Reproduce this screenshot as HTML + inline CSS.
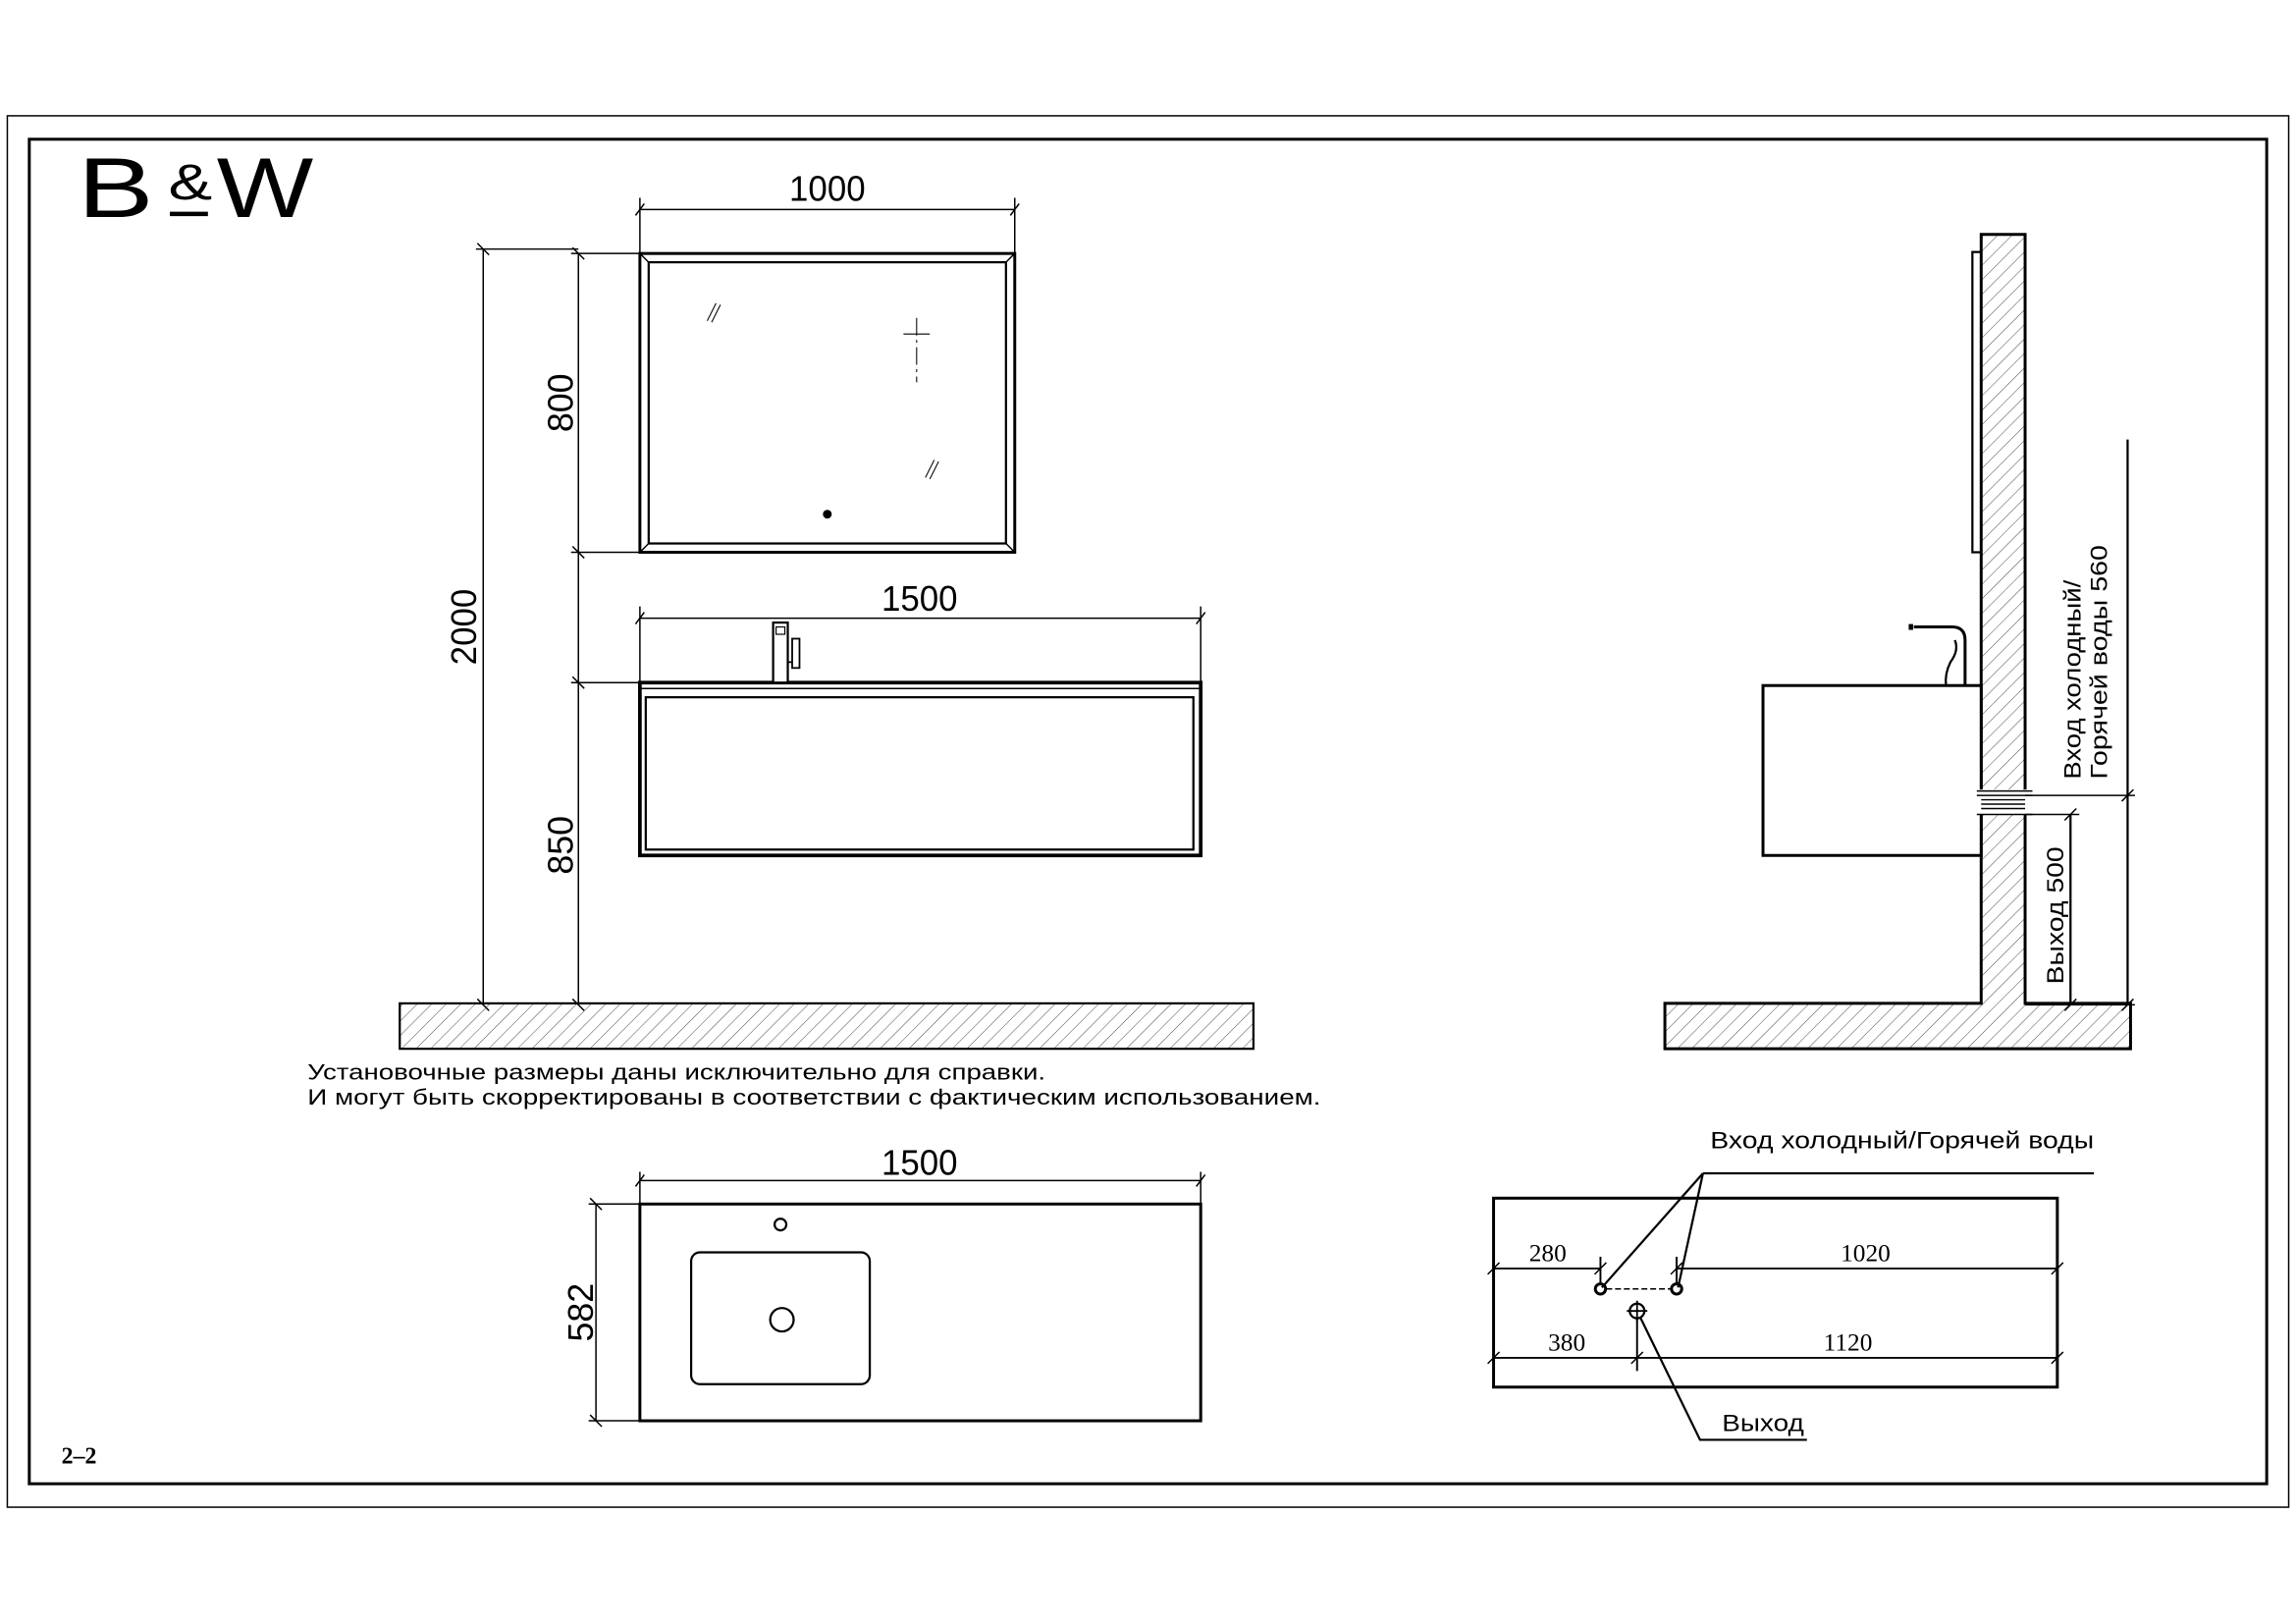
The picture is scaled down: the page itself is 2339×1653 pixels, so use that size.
<!DOCTYPE html>
<html><head><meta charset="utf-8"><style>html,body{margin:0;padding:0;background:#fff}svg{display:block}</style></head>
<body>
<svg width="2339" height="1653" viewBox="0 0 1568 1108" xmlns="http://www.w3.org/2000/svg" font-family="Liberation Sans, DejaVu Sans, sans-serif">
<defs>
<pattern id="h" width="7" height="7" patternUnits="userSpaceOnUse" patternTransform="rotate(45)">
<line x1="0" y1="0" x2="0" y2="7" stroke="#333" stroke-width="0.6"/>
</pattern>
</defs>
<rect width="1568" height="1108" fill="#fff"/>
<rect x="5" y="79" width="1558" height="950" fill="none" stroke="#000" stroke-width="1"/>
<rect x="20" y="95" width="1528" height="918" fill="none" stroke="#000" stroke-width="2"/>
<!-- Logo -->
<text x="53" y="148" font-size="58" fill="#000" textLength="52" lengthAdjust="spacingAndGlyphs">B</text>
<text x="115" y="136" font-size="34" fill="#000" textLength="30" lengthAdjust="spacingAndGlyphs">&amp;</text>
<line x1="116" y1="146" x2="142" y2="146" stroke="#000" stroke-width="3"/>
<text x="148" y="148" font-size="58" fill="#000" textLength="66" lengthAdjust="spacingAndGlyphs">W</text>

<g stroke="#000" fill="none">
<!-- Mirror -->
<rect x="437" y="173" width="256" height="204" stroke-width="2"/>
<rect x="443" y="179" width="244" height="192" stroke-width="1.5"/>
<line x1="437" y1="173" x2="443" y2="179" stroke-width="1"/>
<line x1="693" y1="173" x2="687" y2="179" stroke-width="1"/>
<line x1="437" y1="377" x2="443" y2="371" stroke-width="1"/>
<line x1="693" y1="377" x2="687" y2="371" stroke-width="1"/>
<line x1="483" y1="219" x2="489" y2="207" stroke-width="0.7"/>
<line x1="486" y1="220" x2="492" y2="208" stroke-width="0.7"/>
<line x1="632" y1="326" x2="638" y2="314" stroke-width="0.7"/>
<line x1="635" y1="327" x2="641" y2="315" stroke-width="0.7"/>
<line x1="617" y1="228" x2="635" y2="228" stroke-width="0.7"/>
<line x1="626" y1="217" x2="626" y2="261" stroke-width="0.7" stroke-dasharray="12,3,2,3"/>
</g>
<circle cx="565" cy="351" r="3" fill="#000"/>

<g stroke="#000" fill="none" stroke-width="1">
<line x1="437" y1="143" x2="693" y2="143"/>
<line x1="437" y1="135" x2="437" y2="173"/>
<line x1="693" y1="135" x2="693" y2="173"/>
<line x1="434" y1="147" x2="440" y2="139"/><line x1="690" y1="147" x2="696" y2="139"/>
<line x1="395" y1="173" x2="395" y2="686"/>
<line x1="390" y1="173" x2="437" y2="173"/>
<line x1="390" y1="377" x2="437" y2="377"/>
<line x1="390" y1="466" x2="437" y2="466"/>
<line x1="391" y1="169" x2="399" y2="177"/><line x1="391" y1="373" x2="399" y2="381"/>
<line x1="391" y1="462" x2="399" y2="470"/><line x1="391" y1="682" x2="399" y2="690"/>
<line x1="330" y1="170" x2="330" y2="686"/>
<line x1="325" y1="170" x2="395" y2="170"/>
<line x1="326" y1="166" x2="334" y2="174"/><line x1="326" y1="682" x2="334" y2="690"/>
<line x1="437" y1="422" x2="820" y2="422"/>
<line x1="437" y1="414" x2="437" y2="466"/>
<line x1="820" y1="414" x2="820" y2="466"/>
<line x1="434" y1="426" x2="440" y2="418"/><line x1="817" y1="426" x2="823" y2="418"/>
</g>
<g fill="#000" font-size="24" text-anchor="middle">
<text x="565" y="137" textLength="52" lengthAdjust="spacingAndGlyphs">1000</text>
<text x="628" y="417" textLength="52" lengthAdjust="spacingAndGlyphs">1500</text>
<text transform="translate(391,275) rotate(-90)" textLength="40" lengthAdjust="spacingAndGlyphs">800</text>
<text transform="translate(391,577) rotate(-90)" textLength="40" lengthAdjust="spacingAndGlyphs">850</text>
<text transform="translate(325,428) rotate(-90)" textLength="52" lengthAdjust="spacingAndGlyphs">2000</text>
</g>
<g stroke="#000" fill="none">
<rect x="437" y="466" width="383" height="118" stroke-width="2.5"/>
<line x1="437" y1="470" x2="820" y2="470" stroke-width="1"/>
<rect x="441" y="476" width="374" height="104" stroke-width="1.5"/>
<rect x="528" y="425" width="10" height="41" stroke-width="1.5" fill="#fff"/>
<rect x="530" y="428" width="6" height="5" stroke-width="0.8"/>
<rect x="541" y="436" width="5" height="20" stroke-width="1.2"/>
<line x1="538" y1="452" x2="541" y2="452" stroke-width="1.2"/>
</g>
<rect x="273" y="685" width="583" height="31" fill="url(#h)" stroke="#000" stroke-width="1.5"/>
<text x="210" y="737" font-size="15" fill="#000" textLength="504" lengthAdjust="spacingAndGlyphs">Установочные размеры даны исключительно для справки.</text>
<text x="210" y="754" font-size="15" fill="#000" textLength="692" lengthAdjust="spacingAndGlyphs">И могут быть скорректированы в соответствии с фактическим использованием.</text>

<g stroke="#000" fill="none">
<rect x="437" y="822" width="383" height="148" stroke-width="2"/>
<rect x="472" y="855" width="122" height="90" rx="6" stroke-width="1.5"/>
<circle cx="534" cy="901" r="8" stroke-width="1.5"/>
<circle cx="533" cy="836" r="4" stroke-width="1.5"/>
<g stroke-width="1">
<line x1="437" y1="806" x2="820" y2="806"/>
<line x1="437" y1="800" x2="437" y2="822"/><line x1="820" y1="800" x2="820" y2="822"/>
<line x1="434" y1="810" x2="440" y2="802"/><line x1="817" y1="810" x2="823" y2="802"/>
<line x1="407" y1="822" x2="407" y2="970"/>
<line x1="402" y1="822" x2="437" y2="822"/><line x1="402" y1="970" x2="437" y2="970"/>
<line x1="403" y1="818" x2="411" y2="826"/><line x1="403" y1="966" x2="411" y2="974"/>
</g>
</g>
<g fill="#000" font-size="24" text-anchor="middle">
<text x="628" y="802" textLength="52" lengthAdjust="spacingAndGlyphs">1500</text>
<text transform="translate(405,896) rotate(-90)" textLength="40" lengthAdjust="spacingAndGlyphs">582</text>
</g>
<text x="42" y="999" font-size="16" font-weight="bold" fill="#000" font-family="Liberation Serif, serif">2–2</text>

<path d="M1137 685 H1353 V160 H1383 V685 H1455 V716 H1137 Z" fill="url(#h)" stroke="#000" stroke-width="2"/>
<g stroke="#000" fill="none">
<rect x="1347" y="172" width="6" height="205" stroke-width="1.5"/>
<rect x="1204" y="468" width="149" height="116" stroke-width="2" fill="#fff"/>
<path d="M1307 428 H1333 Q1342 428 1342 437 V468" stroke-width="2"/>
<path d="M1305 426 v4" stroke-width="3"/>
<path d="M1335 437 Q1338 444 1332 452 Q1328 460 1329 468" stroke-width="1.5"/>
<rect x="1350" y="539" width="36" height="17" fill="#fff" stroke-width="0"/>
<g stroke-width="1">
<line x1="1350" y1="540" x2="1388" y2="540"/><line x1="1350" y1="543" x2="1388" y2="543"/>
<line x1="1353" y1="546" x2="1383" y2="546"/><line x1="1353" y1="549" x2="1383" y2="549"/>
<line x1="1353" y1="552" x2="1383" y2="552"/><line x1="1350" y1="556" x2="1388" y2="556"/>
<line x1="1383" y1="543" x2="1458" y2="543"/>
<line x1="1383" y1="556" x2="1420" y2="556"/>
<line x1="1383" y1="686" x2="1458" y2="686"/>
</g>
<line x1="1453" y1="300" x2="1453" y2="686" stroke-width="1.5"/>
<line x1="1414" y1="556" x2="1414" y2="686" stroke-width="1.5"/>
<line x1="1449" y1="547" x2="1457" y2="539" stroke-width="1"/>
<line x1="1449" y1="690" x2="1457" y2="682" stroke-width="1"/>
<line x1="1410" y1="560" x2="1418" y2="552" stroke-width="1"/>
<line x1="1410" y1="690" x2="1418" y2="682" stroke-width="1"/>
</g>
<g fill="#000" font-size="16" text-anchor="middle">
<text transform="translate(1421,464) rotate(-90)" textLength="136" lengthAdjust="spacingAndGlyphs">Вход холодный/</text>
<text transform="translate(1439,452) rotate(-90)" textLength="160" lengthAdjust="spacingAndGlyphs">Горячей воды 560</text>
<text transform="translate(1409,625) rotate(-90)" textLength="94" lengthAdjust="spacingAndGlyphs">Выход 500</text>
</g>

<g stroke="#000" fill="none">
<rect x="1020" y="818" width="385" height="129" stroke-width="2"/>
<g stroke-width="1.3">
<line x1="1020" y1="866" x2="1093" y2="866"/>
<line x1="1145" y1="866" x2="1405" y2="866"/>
<line x1="1020" y1="927" x2="1405" y2="927"/>
<line x1="1093" y1="858" x2="1093" y2="876"/>
<line x1="1145" y1="858" x2="1145" y2="876"/>
<line x1="1118" y1="900" x2="1118" y2="936"/>
</g>
<g stroke-width="1">
<line x1="1016" y1="870" x2="1024" y2="862"/><line x1="1089" y1="870" x2="1097" y2="862"/>
<line x1="1141" y1="870" x2="1149" y2="862"/><line x1="1401" y1="870" x2="1409" y2="862"/>
<line x1="1016" y1="931" x2="1024" y2="923"/><line x1="1114" y1="931" x2="1122" y2="923"/>
<line x1="1401" y1="931" x2="1409" y2="923"/>
<line x1="1097" y1="880" x2="1141" y2="880" stroke-dasharray="4,2"/>
</g>
<circle cx="1093" cy="880" r="3.5" stroke-width="2"/>
<circle cx="1145" cy="880" r="3.5" stroke-width="2"/>
<circle cx="1118" cy="895" r="5" stroke-width="1.5"/>
<line x1="1111" y1="895" x2="1125" y2="895" stroke-width="1.2"/>
<line x1="1118" y1="888" x2="1118" y2="902" stroke-width="1.2"/>
<g stroke-width="1.5">
<line x1="1163" y1="801" x2="1430" y2="801"/>
<line x1="1163" y1="801" x2="1094" y2="879"/>
<line x1="1163" y1="801" x2="1146" y2="879"/>
<polyline points="1120,899 1161,983 1234,983"/>
</g>
</g>
<g fill="#000" font-size="16">
<text x="1168" y="784" textLength="262" lengthAdjust="spacingAndGlyphs">Вход холодный/Горячей воды</text>
<text x="1176" y="977" textLength="56" lengthAdjust="spacingAndGlyphs">Выход</text>
</g>
<g fill="#000" font-size="17" font-family="Liberation Serif, serif" text-anchor="middle">
<text x="1057" y="861">280</text>
<text x="1274" y="861">1020</text>
<text x="1070" y="922">380</text>
<text x="1262" y="922">1120</text>
</g>
</svg>
</body></html>
